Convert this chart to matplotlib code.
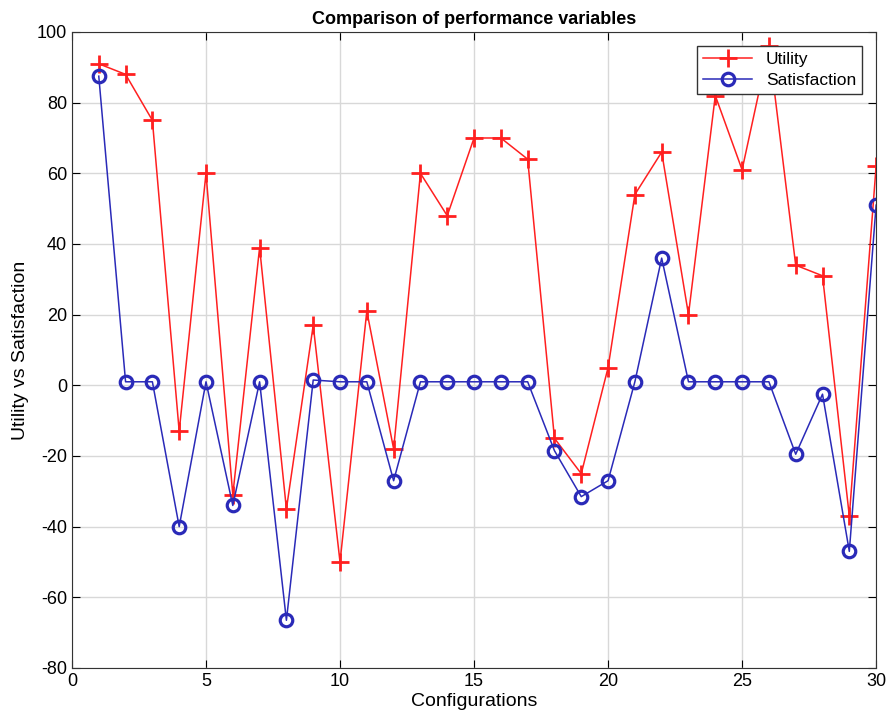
import matplotlib.pyplot as plt
import numpy as np

plt.rcParams['font.family'] = ['Liberation Sans', 'DejaVu Sans']
plt.rcParams['axes.unicode_minus'] = False

configs = np.arange(1, 31)
utility = [91, 88, 75, -13, 60, -31, 39, -35, 17, -50,
           21, -18, 60, 48, 70, 70, 64, -15, -25, 5,
           54, 66, 20, 82, 61, 96, 34, 31, -37, 62]
satisfaction = [87.5, 1, 1, -40, 1, -34, 1, -66.5, 1.5, 1,
                1, -27, 1, 1, 1, 1, 1, -18.5, -31.5, -27,
                1, 36, 1, 1, 1, 1, -19.5, -2.5, -47, 51]

fig = plt.figure(figsize=(8.94, 7.22), dpi=100)
ax = fig.add_axes([0.0805, 0.0748, 0.8995, 0.8809])

ax.plot(configs, utility, color='#ff2020', lw=1.1, marker='+', ms=13, mew=2, label='Utility')
ax.plot(configs, satisfaction, color='#2a2ab8', lw=1.1, marker='o', ms=9, mew=2.3,
        mfc='none', label='Satisfaction')

ax.set_xlim(0, 30)
ax.set_ylim(-80, 100)
ax.set_xticks(np.arange(0, 31, 5))
ax.set_yticks(np.arange(-80, 101, 20))
ax.grid(True, color='#d8d8d8', lw=1)
ax.set_axisbelow(True)
ax.tick_params(direction='in', length=6, labelsize=13, top=True, right=True)
for s in ax.spines.values():
    s.set_color('#333333')

ax.set_title('Comparison of performance variables', fontsize=13, fontweight='bold', pad=6)
ax.set_xlabel('Configurations', fontsize=14, labelpad=2)
ax.set_ylabel('Utility vs Satisfaction', fontsize=14, labelpad=6)

leg = ax.legend(loc='upper right', fontsize=12.5, fancybox=False, framealpha=1,
                edgecolor='#333333', borderaxespad=0.8, handlelength=2.8, borderpad=0.35,
                labelspacing=0.35)
leg.get_frame().set_linewidth(1)

fig.savefig('out.png', dpi=100)
